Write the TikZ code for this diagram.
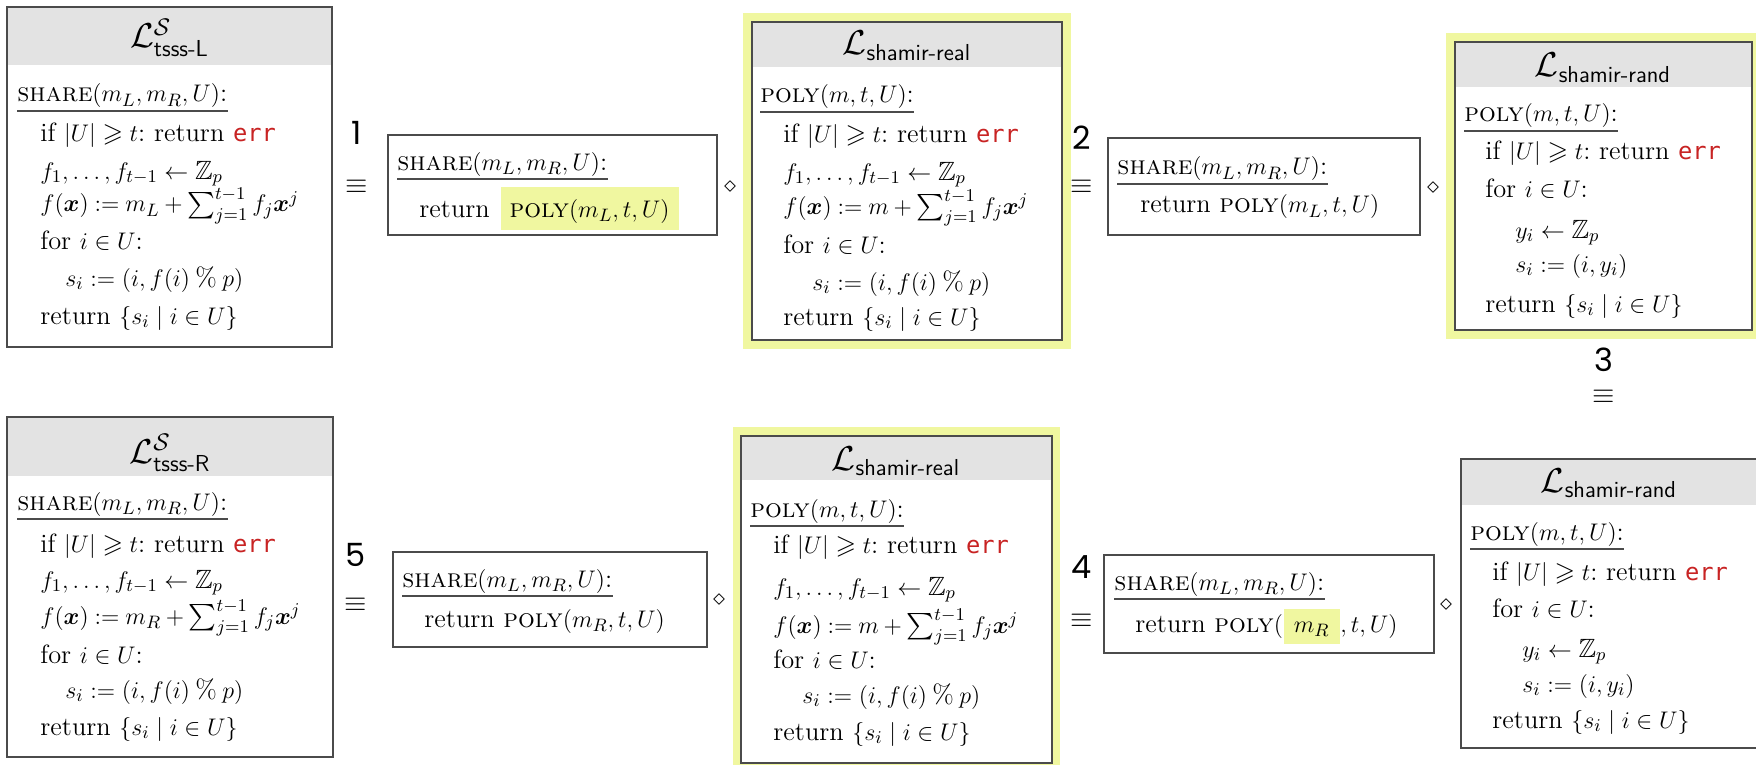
\documentclass[tikz,border=0pt]{standalone}
\usepackage{amsmath,amssymb,bm}
\usepackage{fontspec}
\newfontfamily\labfont{Poppins}
\newfontfamily\errfont{DejaVu Sans Mono}[Scale=0.9]
\definecolor{hl}{RGB}{240,247,160}
\definecolor{hdr}{RGB}{227,227,227}
\definecolor{bord}{RGB}{75,75,75}
\definecolor{errc}{RGB}{200,35,35}
\frenchspacing
\newcommand{\errw}{{\errfont\color{errc}err}}
\newcommand{\lineif}{if $|U|\geqslant t$: return \errw}
\newcommand{\linefs}{$\smash[b]{f_1,\dots,f_{t-1}\leftarrow\mathbb{Z}_p}$}
\newcommand{\linefx}[1]{\thickmuskip=4.5mu\medmuskip=3.5mu$\smash[t]{f(\bm{x}) := #1 + \sum_{j=1}^{t-1} f_j\bm{x}^j}$}
\newcommand{\linefor}{for $i\in U$:}
\newcommand{\linesi}{$s_i := (i, f(i)\mathbin{\%}p)$}
\newcommand{\lineyi}{$y_i\leftarrow\mathbb{Z}_p$}
\newcommand{\linesy}{$s_i := (i, y_i)$}
\newcommand{\lineret}{return $\{s_i \mid i\in U\}$}
\newcommand{\shareh}{\textsc{share}$(m_L,m_R,U)$:}
\newcommand{\polyh}{\textsc{poly}$(m,t,U)$:}
\begin{document}
\begin{tikzpicture}[x=0.5pt,y=-0.5pt,
  txt/.style={anchor=base west, inner sep=0pt, font=\fontsize{13.2}{16}\selectfont},
  ttl/.style={anchor=base, inner sep=0pt, font=\fontsize{16.5}{18}\selectfont},
  lab/.style={inner sep=0pt, font=\labfont\fontsize{16}{19}\selectfont},
  eqv/.style={inner sep=0pt, font=\fontsize{14}{16}\selectfont},
  dia/.style={inner sep=0pt, font=\fontsize{12}{14}\selectfont},
  frame/.style={draw=bord, line width=0.8pt},
  uline/.style={draw=bord, line width=0.75pt},
  hlbox/.style={fill=hl, anchor=base west, inner xsep=4.5pt, inner ysep=3.5pt, text height=11.5pt, text depth=3pt, font=\fontsize{13.2}{16}\selectfont}
]
\useasboundingbox (0,0) rectangle (1756,765);
\fill[white] (0,0) rectangle (1756,765);

% ---------- tsss-L ----------
\begin{scope}[shift={(7,7)}]
  \fill[hdr] (0,0) rectangle (325,58);
  \draw[frame] (0,0) rectangle (325,340);
  \node[ttl] (tLt) at (162.5,41) {$\mathcal{L}^{\mathcal{S}}_{\text{\sffamily tsss-L}}$};
  \node[txt] (tL0) at (10,95) {\shareh};
  \draw[uline] ([yshift=-4.5pt]tL0.base west) -- ([yshift=-4.5pt]tL0.base east);
  \node[txt] (tL1) at (33,134) {\lineif};
  \node[txt] (tL2) at (33,172) {\linefs};
  \node[txt] (tL3) at (33,205) {\linefx{m_L}};
  \node[txt] (tL4) at (33,242) {\linefor};
  \node[txt] (tL5) at (58,279) {\linesi};
  \node[txt] (tL6) at (33,317) {\lineret};
\end{scope}

% ---------- small box 1 ----------
\begin{scope}[shift={(388,135)}]
  \draw[frame] (0,0) rectangle (329,100);
  \node[txt] (b10) at (9,35) {\shareh};
  \draw[uline] ([yshift=-4.5pt]b10.base west) -- ([yshift=-4.5pt]b10.base east);
  \node[txt] (b11) at (31,82) {return};
  \node[hlbox] (b1h) at ([xshift=5pt]b11.base east) {\textsc{poly}$(m_L,t,U)$};
\end{scope}

% ---------- shamir-real top ----------
\begin{scope}[shift={(752,22)}]
  \fill[hl] (-9,-9) rectangle (319,327);
  \fill[white] (0,0) rectangle (310,318);
  \fill[hdr] (0,0) rectangle (310,45);
  \draw[frame] (0,0) rectangle (310,318);
  \node[ttl] (rTt) at (155,33) {$\mathcal{L}_{\text{\sffamily shamir-real}}$};
  \node[txt] (rT0) at (8,81) {\polyh};
  \draw[uline] ([yshift=-4.5pt]rT0.base west) -- ([yshift=-4.5pt]rT0.base east);
  \node[txt] (rT1) at (31,120) {\lineif};
  \node[txt] (rT2) at (31,158) {\linefs};
  \node[txt] (rT3) at (31,192) {\linefx{m}};
  \node[txt] (rT4) at (31,231) {\linefor};
  \node[txt] (rT5) at (60,268) {\linesi};
  \node[txt] (rT6) at (31,303) {\lineret};
\end{scope}

% ---------- small box 2 ----------
\begin{scope}[shift={(1108,138)}]
  \draw[frame] (0,0) rectangle (312,97);
  \node[txt] (b20) at (9,37) {\shareh};
  \draw[uline] ([yshift=-4.5pt]b20.base west) -- ([yshift=-4.5pt]b20.base east);
  \node[txt] (b21) at (32,75) {return \textsc{poly}$(m_L,t,U)$};
\end{scope}

% ---------- shamir-rand top ----------
\begin{scope}[shift={(1455,42)}]
  \fill[hl] (-9,-9) rectangle (306,297);
  \fill[white] (0,0) rectangle (297,288);
  \fill[hdr] (0,0) rectangle (297,45);
  \draw[frame] (0,0) rectangle (297,288);
  \node[ttl] (dTt) at (148,35) {$\mathcal{L}_{\text{\sffamily shamir-rand}}$};
  \node[txt] (dT0) at (9,80) {\polyh};
  \draw[uline] ([yshift=-4.5pt]dT0.base west) -- ([yshift=-4.5pt]dT0.base east);
  \node[txt] (dT1) at (30,118) {\lineif};
  \node[txt] (dT2) at (30,156) {\linefor};
  \node[txt] (dT3) at (60,196) {\lineyi};
  \node[txt] (dT4) at (60,230) {\linesy};
  \node[txt] (dT5) at (30,270) {\lineret};
\end{scope}

% ---------- tsss-R ----------
\begin{scope}[shift={(7,417)}]
  \fill[hdr] (0,0) rectangle (326,59);
  \draw[frame] (0,0) rectangle (326,340);
  \node[ttl] (tRt) at (163,46) {$\mathcal{L}^{\mathcal{S}}_{\text{\sffamily tsss-R}}$};
  \node[txt] (tR0) at (10,93) {\shareh};
  \draw[uline] ([yshift=-4.5pt]tR0.base west) -- ([yshift=-4.5pt]tR0.base east);
  \node[txt] (tR1) at (33,135) {\lineif};
  \node[txt] (tR2) at (33,171) {\linefs};
  \node[txt] (tR3) at (33,207) {\linefx{m_R}};
  \node[txt] (tR4) at (33,246) {\linefor};
  \node[txt] (tR5) at (58,281) {\linesi};
  \node[txt] (tR6) at (33,318) {\lineret};
\end{scope}

% ---------- small box 5 ----------
\begin{scope}[shift={(393,552)}]
  \draw[frame] (0,0) rectangle (314,95);
  \node[txt] (b50) at (9,35) {\shareh};
  \draw[uline] ([yshift=-4.5pt]b50.base west) -- ([yshift=-4.5pt]b50.base east);
  \node[txt] (b51) at (31,75) {return \textsc{poly}$(m_R,t,U)$};
\end{scope}

% ---------- shamir-real bottom ----------
\begin{scope}[shift={(741,436)}]
  \fill[hl] (-8,-9) rectangle (319,336);
  \fill[white] (0,0) rectangle (311,327);
  \fill[hdr] (0,0) rectangle (311,44);
  \draw[frame] (0,0) rectangle (311,327);
  \node[ttl] (rBt) at (155,34) {$\mathcal{L}_{\text{\sffamily shamir-real}}$};
  \node[txt] (rB0) at (9,81) {\polyh};
  \draw[uline] ([yshift=-4.5pt]rB0.base west) -- ([yshift=-4.5pt]rB0.base east);
  \node[txt] (rB1) at (32,117) {\lineif};
  \node[txt] (rB2) at (32,159) {\linefs};
  \node[txt] (rB3) at (32,197) {\linefx{m}};
  \node[txt] (rB4) at (32,232) {\linefor};
  \node[txt] (rB5) at (61,267) {\linesi};
  \node[txt] (rB6) at (32,304) {\lineret};
\end{scope}

% ---------- small box 4 ----------
\begin{scope}[shift={(1104,555)}]
  \draw[frame] (0,0) rectangle (330,98);
  \node[txt] (b40) at (10,35) {\shareh};
  \draw[uline] ([yshift=-4.5pt]b40.base west) -- ([yshift=-4.5pt]b40.base east);
  \node[txt] (b41) at (31,77) {return \textsc{poly}$($};
  \node[hlbox, inner xsep=5pt, inner ysep=3.5pt, text height=8pt, text depth=2.5pt] (b4h) at (b41.base east) {$m_R$};
  \node[txt] (b42) at (b4h.base east) {$,t,U)$};
\end{scope}

% ---------- shamir-rand bottom ----------
\begin{scope}[shift={(1461,459)}]
  \fill[hdr] (0,0) rectangle (297,46);
  \draw[frame] (0,0) rectangle (297,289);
  \node[ttl] (dBt) at (148,33) {$\mathcal{L}_{\text{\sffamily shamir-rand}}$};
  \node[txt] (dB0) at (9,81) {\polyh};
  \draw[uline] ([yshift=-4.5pt]dB0.base west) -- ([yshift=-4.5pt]dB0.base east);
  \node[txt] (dB1) at (31,121) {\lineif};
  \node[txt] (dB2) at (31,158) {\linefor};
  \node[txt] (dB3) at (61,198) {\lineyi};
  \node[txt] (dB4) at (61,233) {\linesy};
  \node[txt] (dB5) at (31,269) {\lineret};
\end{scope}

% ---------- labels ----------
\node[lab] (n1) at (357,133) {1};
\node[eqv] (e1) at (357,187) {$\equiv$};
\node[lab] (n2) at (1082,138) {2};
\node[eqv] (e2) at (1082,187) {$\equiv$};
\node[lab] (n3) at (1604,360) {3};
\node[eqv] (e3) at (1604,397) {$\equiv$};
\node[lab] (n5) at (356,555) {5};
\node[eqv] (e5) at (356,605) {$\equiv$};
\node[lab] (n4) at (1082,567) {4};
\node[eqv] (e4) at (1082,621) {$\equiv$};
\node[dia] (d1) at (730,187) {$\diamond$};
\node[dia] (d2) at (1433,188) {$\diamond$};
\node[dia] (d5) at (719,600) {$\diamond$};
\node[dia] (d4) at (1446,605) {$\diamond$};
\end{tikzpicture}
\end{document}
